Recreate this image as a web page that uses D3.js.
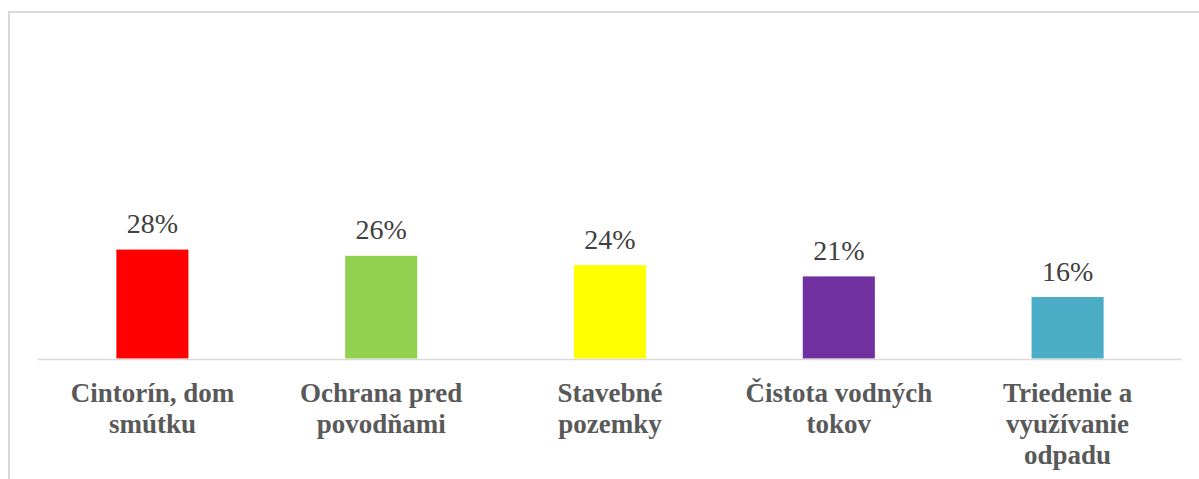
<!DOCTYPE html>
<html>
<head>
<meta charset="utf-8">
<script src="https://cdn.jsdelivr.net/npm/d3@7"></script>
<style>
  html, body { margin: 0; padding: 0; background: #fff; overflow: hidden; }
</style>
</head>
<body>
<div id="graph"></div>
<script>
const w = 1199;
const h = 479;
const categories = ["Cintorín, dom smútku", "Ochrana pred povodňami", "Stavebné pozemky", "Čistota vodných tokov", "Triedenie a využívanie odpadu"];
const labelLines = [["Cintorín, dom", "smútku"], ["Ochrana pred", "povodňami"], ["Stavebné", "pozemky"], ["Čistota vodných", "tokov"], ["Triedenie a", "využívanie", "odpadu"]];
const values = [0.28, 0.264, 0.24, 0.211, 0.158];
const colors = ["#ff0000", "#92d050", "#ffff00", "#7030a0", "#4bacc6"];
const formatPct = d3.format(".0%");

const data = categories.map((c, i) => ({ cat: c, lines: labelLines[i], value: values[i], color: colors[i] }));

const svg = d3.select("#graph").append("svg").attr("width", w).attr("height", h);

// chart frame (right and bottom edges fall outside the picture)
svg.append("rect")
  .attr("x", 9)
  .attr("y", 12)
  .attr("width", 1300)
  .attr("height", 600)
  .attr("fill", "#fff")
  .attr("stroke", "#d9d9d9")
  .attr("stroke-width", 2);

const baseY = 358.5;
const xScale = d3.scaleBand().domain(categories).range([38, 1182]).paddingInner(0.685).paddingOuter(0.3425);
const yScale = d3.scaleLinear().domain([0, 0.3]).range([baseY, baseY - 0.3 * 389]);

svg.selectAll("rect.bar")
  .data(data)
  .enter()
  .append("rect")
  .attr("class", "bar")
  .attr("x", (d) => xScale(d.cat))
  .attr("y", (d) => yScale(d.value))
  .attr("width", xScale.bandwidth())
  .attr("height", (d) => yScale(0) - yScale(d.value))
  .attr("fill", (d) => d.color);

const xAxis = svg.append("g")
  .attr("transform", `translate(0, ${baseY + 1})`)
  .call(d3.axisBottom(xScale).tickSize(0).tickSizeOuter(0).tickFormat(""));
xAxis.select(".domain").remove();
xAxis.append("line")
  .attr("x1", xScale.range()[0])
  .attr("x2", xScale.range()[1])
  .attr("stroke", "#d9d9d9")
  .attr("stroke-width", 1.5);

// category labels, wrapped as in the original
xAxis.selectAll(".tick text").remove();
xAxis.selectAll(".tick")
  .append("text")
  .attr("text-anchor", "middle")
  .attr("fill", "#595959")
  .style("font-family", "'Liberation Serif', 'Times New Roman', serif")
  .style("font-weight", "bold")
  .style("font-size", "27px")
  .each(function (c) {
    const d = data.find((e) => e.cat === c);
    d3.select(this)
      .selectAll("tspan")
      .data(d.lines)
      .enter()
      .append("tspan")
      .attr("x", 0)
      .attr("y", (l, i) => 42 + i * 31.3)
      .text((l) => l);
  });

// value labels
svg.selectAll("text.value")
  .data(data)
  .enter()
  .append("text")
  .attr("class", "value")
  .attr("x", (d) => xScale(d.cat) + xScale.bandwidth() / 2)
  .attr("y", (d) => yScale(d.value) - 16.5)
  .attr("text-anchor", "middle")
  .attr("fill", "#404040")
  .style("font-family", "'Liberation Serif', 'Times New Roman', serif")
  .style("font-size", "28px")
  .text((d) => formatPct(d.value));
</script>
</body>
</html>
